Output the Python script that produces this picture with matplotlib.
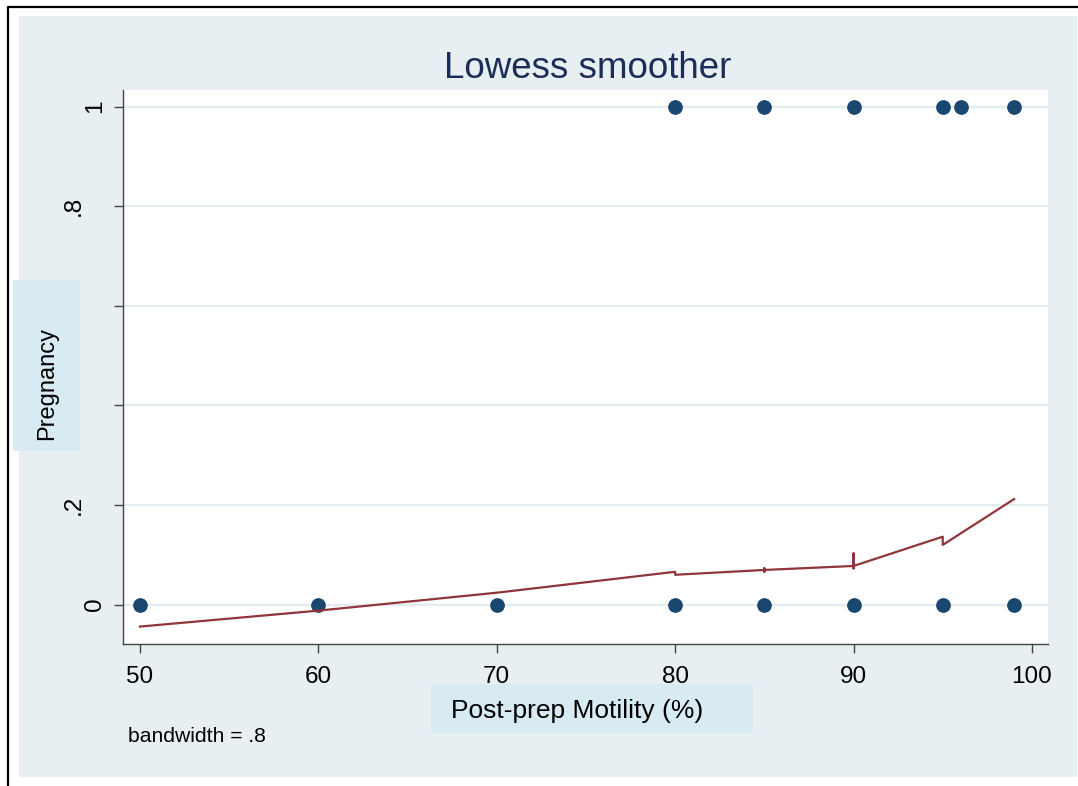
import numpy as np
import matplotlib
matplotlib.use("Agg")
import matplotlib.pyplot as plt
import matplotlib.transforms as mtransforms
from matplotlib.patches import Rectangle
from matplotlib.lines import Line2D

plt.rcParams['font.family'] = ['Liberation Sans', 'DejaVu Sans']

# observed points
motility = [50, 60, 70, 80, 85, 90, 95, 99, 80, 85, 90, 95, 96, 99]
pregnancy = [0, 0, 0, 0, 0, 0, 0, 0, 1, 1, 1, 1, 1, 1]

# lowess fit as drawn (sorted x, ties give little jumps)
fit_x = [50, 60, 70, 80, 80, 85, 85, 85, 85, 90, 90, 90, 90, 95, 95, 99]
fit_y = [-0.044, -0.012, 0.024, 0.066, 0.060, 0.0697, 0.073, 0.066, 0.0697,
         0.0777, 0.103, 0.073, 0.0777, 0.1365, 0.120, 0.212]

xticks = [50, 60, 70, 80, 90, 100]
yticks = [0, 0.2, 0.4, 0.6, 0.8, 1]
yticklabels = ['0', '.2', '', '', '.8', '1']

W, H = 1078, 786
BG = '#e8eff2'
BOX = '#d8ebf2'
NAVY = '#1a476f'
MAROON = '#90353b'
GRID = '#e3edf0'

def fx(px):
    return px / W

def fy(py):
    return 1 - py / H

fig = plt.figure(figsize=(W / 100, H / 100), dpi=100)
fig.patch.set_facecolor('white')

# graph region background + outer frame
fig.patches.append(Rectangle((fx(19), fy(777)), fx(1077) - fx(19), fy(16) - fy(777),
                             transform=fig.transFigure, facecolor=BG, edgecolor='none', zorder=-5))
fig.lines.append(Line2D([fx(8), fx(8), fx(1078)], [0, fy(6.5), fy(6.5)],
                        transform=fig.transFigure, color='black', lw=1.6, zorder=-4))

ax = fig.add_axes([fx(123), fy(644), fx(1048) - fx(123), fy(90) - fy(644)])
ax.set_zorder(2)
ax.set_facecolor('white')

ax.scatter(motility, pregnancy, s=10.6 ** 2, color=NAVY, zorder=3, linewidths=0)
ax.plot(fit_x, fit_y, color=MAROON, lw=1.6, zorder=4)

ax.set_xlim(49.05, 100.9)
ax.set_ylim(-0.079, 1.0335)
ax.set_xticks(xticks)
ax.set_yticks(yticks)
ax.set_yticklabels([])
ax.tick_params(axis='both', direction='out', length=6.5, width=1, color='#444444',
               labelsize=17.5, labelcolor='black')
ax.tick_params(axis='x', pad=9.5)
ax.grid(axis='y', color=GRID, lw=1.6, zorder=1)
ax.set_axisbelow(True)
for side in ['top', 'right']:
    ax.spines[side].set_visible(False)
for side in ['left', 'bottom']:
    ax.spines[side].set_color('#444444')
    ax.spines[side].set_linewidth(1.0)

# rotated y labels, Stata shifts the longer ones further left
ylab_tr = mtransforms.blended_transform_factory(fig.transFigure, ax.transData)
for val, lab in zip(yticks, yticklabels):
    if lab == '':
        continue
    base = 101.5 if len(lab) == 1 else 79.5
    ax.text(fx(base), val, lab, transform=ylab_tr, rotation=90, rotation_mode='anchor',
            ha='center', va='baseline', fontsize=17.5, color='black', clip_on=False)

# title
fig.text(fx(587.5), fy(77.7), 'Lowess smoother', ha='center', va='baseline',
         fontsize=26.5, color='#1c2d57')

# axis titles in shaded boxes
fig.patches.append(Rectangle((fx(431), fy(733)), fx(753) - fx(431), fy(684) - fy(733),
                             transform=fig.transFigure, facecolor=BOX, edgecolor='none', zorder=3))
fig.text(fx(451), fy(717.7), 'Post-prep Motility (%)', ha='left', va='baseline',
         fontsize=19, color='black', zorder=4)

fig.patches.append(Rectangle((fx(13), fy(451)), fx(80) - fx(13), fy(280) - fy(451),
                             transform=fig.transFigure, facecolor=BOX, edgecolor='none', zorder=3))
fig.text(fx(47), fy(383.5), 'Pregnancy', ha='center', va='center', rotation=90,
         fontsize=17, color='black', zorder=4)

fig.text(fx(128), fy(741.7), 'bandwidth = .8', ha='left', va='baseline',
         fontsize=15.2, color='black')

fig.savefig('out.png', dpi=100)
